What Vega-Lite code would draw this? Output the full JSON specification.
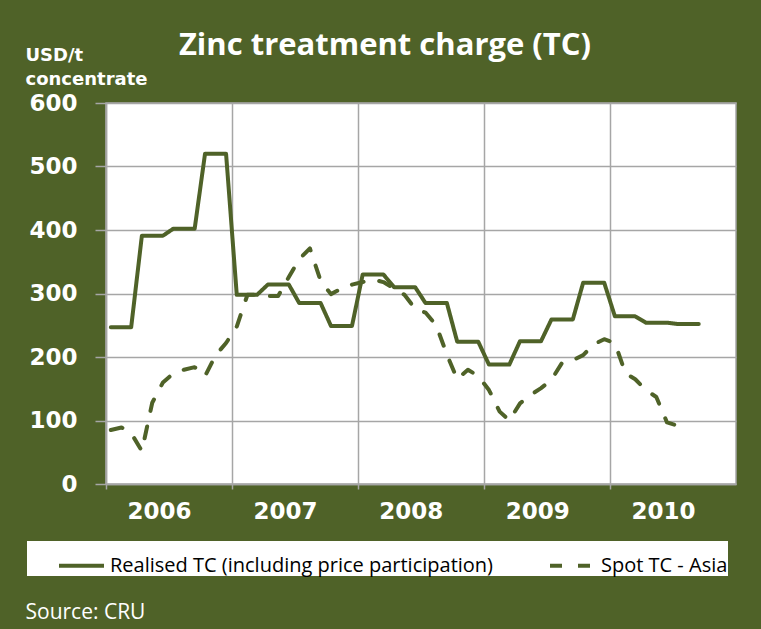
{
  "$schema": "https://vega.github.io/schema/vega-lite/v6.json",
  "width": 630,
  "height": 381,
  "autosize": {"type": "none"},
  "padding": {"left": 106, "top": 103, "right": 25, "bottom": 145},
  "background": "#4F6228",
  "title": {
    "text": "Zinc treatment charge (TC)",
    "color": "white",
    "font": "Open Sans",
    "fontWeight": "bold",
    "fontSize": 31,
    "anchor": "middle",
    "frame": "group",
    "baseline": "alphabetic",
    "dx": -36,
    "offset": -40
  },
  "config": {
    "view": {"fill": "white", "stroke": "#A6A6A6", "strokeWidth": 1.5},
    "axis": {
      "labelFont": "DejaVu Sans",
      "labelFontWeight": "bold",
      "labelFontSize": 23,
      "labelColor": "white",
      "tickColor": "#A6A6A6",
      "tickWidth": 1.5,
      "domainColor": "#A6A6A6",
      "domainWidth": 1.5,
      "gridColor": "#A6A6A6",
      "gridWidth": 1.5,
      "gridOpacity": 1
    }
  },
  "data": {
    "values": [
      {"date": "2006-01-15", "series": "Realised TC (including price participation)", "value": 247},
      {"date": "2006-02-15", "series": "Realised TC (including price participation)", "value": 247},
      {"date": "2006-03-15", "series": "Realised TC (including price participation)", "value": 247},
      {"date": "2006-04-15", "series": "Realised TC (including price participation)", "value": 391},
      {"date": "2006-05-15", "series": "Realised TC (including price participation)", "value": 391},
      {"date": "2006-06-15", "series": "Realised TC (including price participation)", "value": 391},
      {"date": "2006-07-15", "series": "Realised TC (including price participation)", "value": 402},
      {"date": "2006-08-15", "series": "Realised TC (including price participation)", "value": 402},
      {"date": "2006-09-15", "series": "Realised TC (including price participation)", "value": 402},
      {"date": "2006-10-15", "series": "Realised TC (including price participation)", "value": 520},
      {"date": "2006-11-15", "series": "Realised TC (including price participation)", "value": 520},
      {"date": "2006-12-15", "series": "Realised TC (including price participation)", "value": 520},
      {"date": "2007-01-15", "series": "Realised TC (including price participation)", "value": 298},
      {"date": "2007-02-15", "series": "Realised TC (including price participation)", "value": 298},
      {"date": "2007-03-15", "series": "Realised TC (including price participation)", "value": 298},
      {"date": "2007-04-15", "series": "Realised TC (including price participation)", "value": 314},
      {"date": "2007-05-15", "series": "Realised TC (including price participation)", "value": 314},
      {"date": "2007-06-15", "series": "Realised TC (including price participation)", "value": 314},
      {"date": "2007-07-15", "series": "Realised TC (including price participation)", "value": 285},
      {"date": "2007-08-15", "series": "Realised TC (including price participation)", "value": 285},
      {"date": "2007-09-15", "series": "Realised TC (including price participation)", "value": 285},
      {"date": "2007-10-15", "series": "Realised TC (including price participation)", "value": 249},
      {"date": "2007-11-15", "series": "Realised TC (including price participation)", "value": 249},
      {"date": "2007-12-15", "series": "Realised TC (including price participation)", "value": 249},
      {"date": "2008-01-15", "series": "Realised TC (including price participation)", "value": 330},
      {"date": "2008-02-15", "series": "Realised TC (including price participation)", "value": 330},
      {"date": "2008-03-15", "series": "Realised TC (including price participation)", "value": 330},
      {"date": "2008-04-15", "series": "Realised TC (including price participation)", "value": 310},
      {"date": "2008-05-15", "series": "Realised TC (including price participation)", "value": 310},
      {"date": "2008-06-15", "series": "Realised TC (including price participation)", "value": 310},
      {"date": "2008-07-15", "series": "Realised TC (including price participation)", "value": 285},
      {"date": "2008-08-15", "series": "Realised TC (including price participation)", "value": 285},
      {"date": "2008-09-15", "series": "Realised TC (including price participation)", "value": 285},
      {"date": "2008-10-15", "series": "Realised TC (including price participation)", "value": 224},
      {"date": "2008-11-15", "series": "Realised TC (including price participation)", "value": 224},
      {"date": "2008-12-15", "series": "Realised TC (including price participation)", "value": 224},
      {"date": "2009-01-15", "series": "Realised TC (including price participation)", "value": 188},
      {"date": "2009-02-15", "series": "Realised TC (including price participation)", "value": 188},
      {"date": "2009-03-15", "series": "Realised TC (including price participation)", "value": 188},
      {"date": "2009-04-15", "series": "Realised TC (including price participation)", "value": 225},
      {"date": "2009-05-15", "series": "Realised TC (including price participation)", "value": 225},
      {"date": "2009-06-15", "series": "Realised TC (including price participation)", "value": 225},
      {"date": "2009-07-15", "series": "Realised TC (including price participation)", "value": 259},
      {"date": "2009-08-15", "series": "Realised TC (including price participation)", "value": 259},
      {"date": "2009-09-15", "series": "Realised TC (including price participation)", "value": 259},
      {"date": "2009-10-15", "series": "Realised TC (including price participation)", "value": 317},
      {"date": "2009-11-15", "series": "Realised TC (including price participation)", "value": 317},
      {"date": "2009-12-15", "series": "Realised TC (including price participation)", "value": 317},
      {"date": "2010-01-15", "series": "Realised TC (including price participation)", "value": 264},
      {"date": "2010-02-15", "series": "Realised TC (including price participation)", "value": 264},
      {"date": "2010-03-15", "series": "Realised TC (including price participation)", "value": 264},
      {"date": "2010-04-15", "series": "Realised TC (including price participation)", "value": 254},
      {"date": "2010-05-15", "series": "Realised TC (including price participation)", "value": 254},
      {"date": "2010-06-15", "series": "Realised TC (including price participation)", "value": 254},
      {"date": "2010-07-15", "series": "Realised TC (including price participation)", "value": 252},
      {"date": "2010-08-15", "series": "Realised TC (including price participation)", "value": 252},
      {"date": "2010-09-15", "series": "Realised TC (including price participation)", "value": 252},
      {"date": "2006-01-15", "series": "Spot TC - Asia", "value": 85},
      {"date": "2006-02-15", "series": "Spot TC - Asia", "value": 89},
      {"date": "2006-03-15", "series": "Spot TC - Asia", "value": 80},
      {"date": "2006-04-15", "series": "Spot TC - Asia", "value": 52},
      {"date": "2006-05-15", "series": "Spot TC - Asia", "value": 128},
      {"date": "2006-06-15", "series": "Spot TC - Asia", "value": 160},
      {"date": "2006-07-15", "series": "Spot TC - Asia", "value": 174},
      {"date": "2006-08-15", "series": "Spot TC - Asia", "value": 180},
      {"date": "2006-09-15", "series": "Spot TC - Asia", "value": 184},
      {"date": "2006-10-15", "series": "Spot TC - Asia", "value": 170},
      {"date": "2006-11-15", "series": "Spot TC - Asia", "value": 203},
      {"date": "2006-12-15", "series": "Spot TC - Asia", "value": 222},
      {"date": "2007-01-15", "series": "Spot TC - Asia", "value": 248},
      {"date": "2007-02-15", "series": "Spot TC - Asia", "value": 298},
      {"date": "2007-03-15", "series": "Spot TC - Asia", "value": 298},
      {"date": "2007-04-15", "series": "Spot TC - Asia", "value": 296},
      {"date": "2007-05-15", "series": "Spot TC - Asia", "value": 296},
      {"date": "2007-06-15", "series": "Spot TC - Asia", "value": 326},
      {"date": "2007-07-15", "series": "Spot TC - Asia", "value": 354},
      {"date": "2007-08-15", "series": "Spot TC - Asia", "value": 371},
      {"date": "2007-09-15", "series": "Spot TC - Asia", "value": 320},
      {"date": "2007-10-15", "series": "Spot TC - Asia", "value": 299},
      {"date": "2007-11-15", "series": "Spot TC - Asia", "value": 308},
      {"date": "2007-12-15", "series": "Spot TC - Asia", "value": 314},
      {"date": "2008-01-15", "series": "Spot TC - Asia", "value": 318},
      {"date": "2008-02-15", "series": "Spot TC - Asia", "value": 322},
      {"date": "2008-03-15", "series": "Spot TC - Asia", "value": 318},
      {"date": "2008-04-15", "series": "Spot TC - Asia", "value": 308},
      {"date": "2008-05-15", "series": "Spot TC - Asia", "value": 298},
      {"date": "2008-06-15", "series": "Spot TC - Asia", "value": 276},
      {"date": "2008-07-15", "series": "Spot TC - Asia", "value": 270},
      {"date": "2008-08-15", "series": "Spot TC - Asia", "value": 250},
      {"date": "2008-09-15", "series": "Spot TC - Asia", "value": 204},
      {"date": "2008-10-15", "series": "Spot TC - Asia", "value": 165},
      {"date": "2008-11-15", "series": "Spot TC - Asia", "value": 180},
      {"date": "2008-12-15", "series": "Spot TC - Asia", "value": 170},
      {"date": "2009-01-15", "series": "Spot TC - Asia", "value": 148},
      {"date": "2009-02-15", "series": "Spot TC - Asia", "value": 114},
      {"date": "2009-03-15", "series": "Spot TC - Asia", "value": 100},
      {"date": "2009-04-15", "series": "Spot TC - Asia", "value": 127},
      {"date": "2009-05-15", "series": "Spot TC - Asia", "value": 140},
      {"date": "2009-06-15", "series": "Spot TC - Asia", "value": 151},
      {"date": "2009-07-15", "series": "Spot TC - Asia", "value": 164},
      {"date": "2009-08-15", "series": "Spot TC - Asia", "value": 191},
      {"date": "2009-09-15", "series": "Spot TC - Asia", "value": 195},
      {"date": "2009-10-15", "series": "Spot TC - Asia", "value": 203},
      {"date": "2009-11-15", "series": "Spot TC - Asia", "value": 220},
      {"date": "2009-12-15", "series": "Spot TC - Asia", "value": 228},
      {"date": "2010-01-15", "series": "Spot TC - Asia", "value": 222},
      {"date": "2010-02-15", "series": "Spot TC - Asia", "value": 174},
      {"date": "2010-03-15", "series": "Spot TC - Asia", "value": 165},
      {"date": "2010-04-15", "series": "Spot TC - Asia", "value": 148},
      {"date": "2010-05-15", "series": "Spot TC - Asia", "value": 137},
      {"date": "2010-06-15", "series": "Spot TC - Asia", "value": 97},
      {"date": "2010-07-15", "series": "Spot TC - Asia", "value": 92},
      {"date": "2010-08-15", "series": "Spot TC - Asia", "value": 102}
    ]
  },
  "mark": {"type": "line", "strokeWidth": 4, "strokeCap": "round", "strokeJoin": "round"},
  "encoding": {
    "x": {
      "field": "date",
      "type": "temporal",
      "scale": {
        "type": "utc",
        "domain": [
          {"year": 2006, "month": 1, "date": 1, "utc": true},
          {"year": 2011, "month": 1, "date": 1, "utc": true}
        ]
      },
      "axis": {
        "values": [
          {"year": 2006, "month": 1, "date": 1, "utc": true},
          {"year": 2007, "month": 1, "date": 1, "utc": true},
          {"year": 2008, "month": 1, "date": 1, "utc": true},
          {"year": 2009, "month": 1, "date": 1, "utc": true},
          {"year": 2010, "month": 1, "date": 1, "utc": true}
        ],
        "format": "%Y",
        "labelOffset": 53,
        "labelAlign": "center",
        "labelPadding": 11,
        "tickSize": 5,
        "title": "Source: CRU",
        "titleColor": "white",
        "titleFont": "Open Sans",
        "titleFontWeight": "normal",
        "titleFontSize": 21,
        "titleAlign": "left",
        "titleAnchor": "start",
        "titleBaseline": "alphabetic",
        "titleX": -81,
        "titleY": 134
      }
    },
    "y": {
      "field": "value",
      "type": "quantitative",
      "scale": {"domain": [0, 600], "nice": false},
      "axis": {
        "values": [0, 100, 200, 300, 400, 500, 600],
        "tickSize": 11,
        "labelPadding": 18,
        "title": ["USD/t", "concentrate"],
        "titleColor": "white",
        "titleFont": "DejaVu Sans",
        "titleFontWeight": "bold",
        "titleFontSize": 18,
        "titleAngle": 0,
        "titleAlign": "left",
        "titleBaseline": "alphabetic",
        "titleLineHeight": 24,
        "titleX": -81,
        "titleY": -43
      }
    },
    "color": {
      "field": "series",
      "type": "nominal",
      "scale": {
        "domain": ["Realised TC (including price participation)", "Spot TC - Asia"],
        "range": ["#4F6228", "#4F6228"]
      },
      "legend": {
        "orient": "none",
        "legendX": -79,
        "legendY": 438,
        "direction": "horizontal",
        "fillColor": "white",
        "padding": 0,
        "title": "\u00a0",
        "titleOrient": "left",
        "titlePadding": 30,
        "symbolType": "stroke",
        "symbolSize": 2025,
        "symbolStrokeWidth": 4,
        "labelFont": "Open Sans",
        "labelFontSize": 20,
        "labelColor": "black",
        "labelOffset": 4,
        "columnPadding": 48,
        "labelLimit": 600
      }
    },
    "strokeDash": {
      "field": "series",
      "type": "nominal",
      "scale": {
        "domain": ["Realised TC (including price participation)", "Spot TC - Asia"],
        "range": [[1, 0], [12, 16]]
      },
      "legend": {
        "orient": "none",
        "legendX": -79,
        "legendY": 438,
        "direction": "horizontal",
        "fillColor": "white",
        "padding": 0,
        "title": "\u00a0",
        "titleOrient": "left",
        "titlePadding": 30,
        "symbolType": "stroke",
        "symbolSize": 2025,
        "symbolStrokeWidth": 4,
        "labelFont": "Open Sans",
        "labelFontSize": 20,
        "labelColor": "black",
        "labelOffset": 4,
        "columnPadding": 48,
        "labelLimit": 600
      }
    }
  }
}
